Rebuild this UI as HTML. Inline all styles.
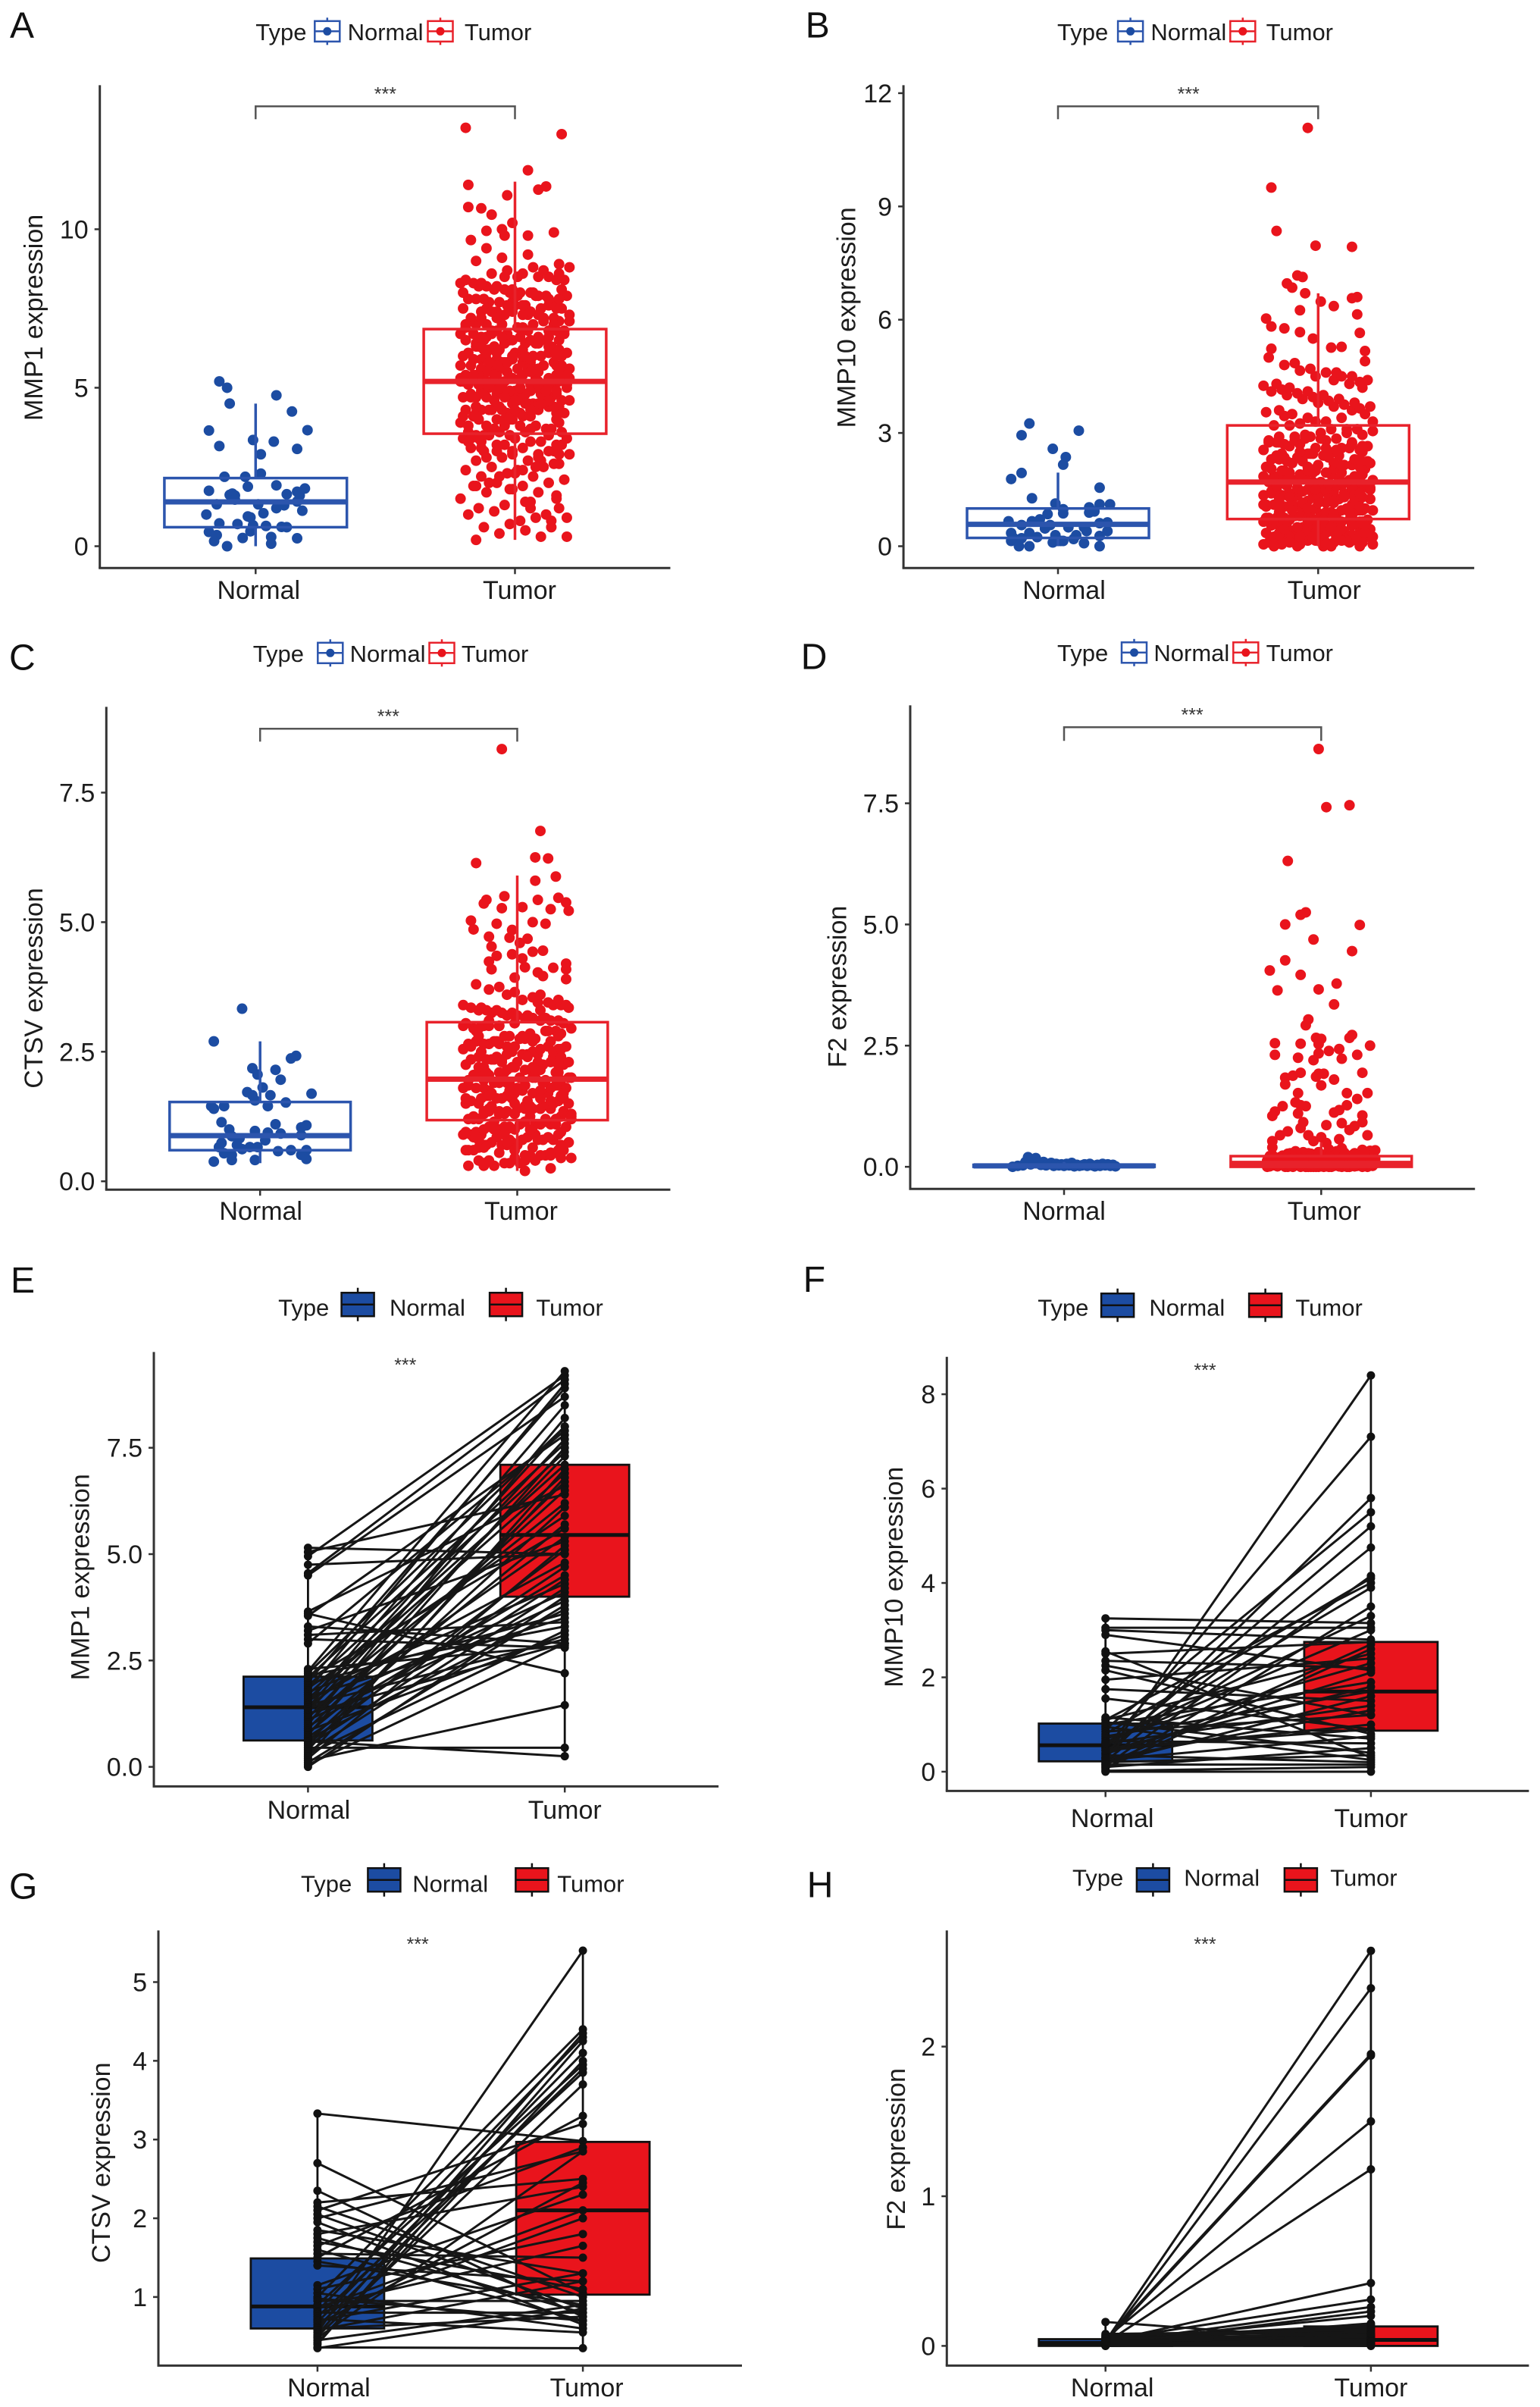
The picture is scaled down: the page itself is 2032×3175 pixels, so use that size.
<!DOCTYPE html>
<html lang="en">
<head>
<meta charset="utf-8">
<title>Expression of MMP1, MMP10, CTSV and F2 in normal and tumor samples</title>
<style>
html,body{margin:0;padding:0;background:#fff;}
svg{display:block;font-family:"Liberation Sans",sans-serif;}
</style>
</head>
<body>
<svg id="figure" width="2032" height="3175" viewBox="0 0 2032 3175"></svg>
<script>
const categories = ["Normal", "Tumor"];

/* shared horizontal jitter, in hundredths of the category gap */
const sharedJitter = [5,-11,15,-1,-17,9,-7,18,3,-13,13,-4,-20,6,-10,16,0,-15,10,-6,20,4,-12,14,-2,-18,8,-8,17,2,-14,12,-4,-21,6,-11,16,-1,-16,9,-7,19,3,-13,13,-3,-19,7,-9,17,1,-15,11,-5,21];

/* Panel A : MMP1 */
const aTicks = [0,5,10];
const aTickLabels = ["0","5","10"];
const aNormalBox = [0,.6,1.4,2.15,4.5];
const aTumorBox = [.2,3.55,5.2,6.85,11.5];
const aNormalValues = [5.2,5,4.76,4.5,4.25,3.65,3.66,3.35,3.3,3.16,3.07,2.9,2.19,2.29,2.19,1.88,1.92,1.75,1.82,1.72,1.66,1.6,1.62,1.64,1.6,1.47,1.41,1.32,1.32,1.2,1.29,1.12,1.04,1,.94,.91,.72,.7,.66,.64,.61,.6,.47,.45,.35,.26,.29,.25,.16,.08,0];
const aNormalJitter = [-14,-11,8,-10,14,-18,20,-1,7,-14,16,2,-12,2,-4,-3,8,-18,19,16,-9,-8,-10,12,17,-8,16,1,-15,8,11,18,3,-19,-3,-2,-14,-7,-1,4,10,12,-2,-18,-15,-5,6,16,-16,6,-11];
const aTumorJitter = [-19,18,5,-18,12,9,-3,-18,-13,-9,-1,-11,-5,-4,5,15,-17];
const aTumorValues = [13.2,13,11.86,11.4,11.35,11.25,11.07,10.7,10.66,10.46,10.2,9.95,10,9.8,9.8,9.9,9.66,
.2,.3,.4,.3,.5,.6,.8,.7,1,.9,1.1,1.2,.8,1.2,1,1.3,1.5,1.4,1.7,1.5,1.8,1.9,1.7,2,2.1,1.9,2.2,2,2.3,2.4,2.2,2.5,2.6,2.4,2.7,2.5,2.8,2.9,2.7,2.8,3,2.9,3.1,2.9,3,3.2,3.1,3.3,3,3.2,3.4,3.3,3.5,3.2,3.4,3.5,3.3,3.6,3.4,3.6,3.5,3.7,3.5,3.6,3.8,
3.7,3.9,3.8,4,3.7,4,3.9,4.1,3.8,4.2,4,4.1,4.3,4,4.2,4.1,4.3,4.4,4.2,4.3,4.5,4.3,4.4,4.6,4.4,4.5,4.3,4.6,4.5,4.7,4.4,4.6,4.7,4.5,4.8,4.6,4.7,4.9,4.6,4.8,4.7,4.9,5,4.8,4.9,4.7,5,4.9,5.1,4.8,5,5.1,4.9,5.2,5,5.1,5.2,5,5.3,5.1,5.2,5.3,5.1,5.2,5.4,
5.3,5.4,5.2,5.5,5.3,5.4,5.6,5.3,5.5,5.4,5.6,5.7,5.5,5.6,5.4,5.7,5.8,5.6,5.7,5.5,5.8,5.9,5.7,5.6,5.9,6,5.8,5.9,6.1,5.8,6,5.9,6.2,6,6.1,6.3,6,6.2,6.1,6.4,6.2,6.3,6.5,6.1,6.4,6.3,6.5,6.6,6.3,6.5,6.4,6.7,6.5,6.6,6.8,6.5,6.7,6.6,6.8,6.7,6.9,6.6,6.8,6.7,6.9,
7,6.8,7.1,6.9,7,7.2,7,7.1,7.3,7,7.2,7.4,7.1,7.3,7.2,7.5,7.3,7.4,7.6,7.3,7.5,7.4,7.7,7.5,7.6,7.8,7.5,7.7,7.9,7.6,7.8,7.7,8,7.8,7.9,8.1,7.8,8,8.2,7.9,8.1,8.3,8,8.2,8.4,8.1,8.3,8.5,8.2,8.4,8.6,8.3,8.5,8.7,8.4,8.8,8.6,8.9,8.5,9,8.7,9.1,8.8,9.2,9.4,
2.6,3,3.4,2.8,3.2,3.6,2.4,3.1,3.5,3.9,4.1,3.7,4.3,4,4.6,4.2,4.8,4.4,5,4.5,5.2,4.7,4.9,5.1,5.3,4.6,5.5,5,5.4,4.8,5.6,5.2,5.8,5.1,5.7,5.3,5.9,5.5,6.1,5.4,6,5.6,6.3,5.8,6.5,6,6.7,6.2,6.9,6.4,7.1,6.6,7.3,6.8,7.5,7,7.7,7.2,7.9,7.4,8.1,7.6,8.3,7.8,8.5,8,1.2,2,1.6,2.3,1.9,2.7,2.2,.9,1.4,3,.6,1.8,3.3,2.5,3.7,2.9,4.2,3.4,4.7,3.8,5.2,4.3,5.6,4.9,6,5.4,6.4,5.7,6.8,6.2,7.2,6.6,7.6,7,8,7.4,8.6,7.9,
4.4,4.7,5,5.3,5.6,5.9,6.2,4.5,4.8,5.1,5.4,5.7,6,6.3,4.6,4.9,5.2,5.5,5.8,6.1,4.3,4.1,4.5,5,5.5,6,6.5,6.8,4,3.8,5.2,5.4,5.6,5.3,5.1,4.9,4.7,5.7,5.9,6.1];

/* Panel B : MMP10 */
const bTicks = [0,3,6,9,12];
const bTickLabels = ["0","3","6","9","12"];
const bNormalBox = [0,.22,.58,1,1.95];
const bTumorBox = [0,.72,1.7,3.2,6.7];
const bNormalValues = [3.25,2.94,3.06,2.58,2.36,2.16,1.94,1.78,1.55,1.27,1.13,1.11,1.11,1.03,.98,.87,.85,.89,.92,.66,.71,.66,.56,.56,.63,.61,.5,.5,.47,.35,.35,.4,.4,.29,.29,.21,.21,.24,.27,.14,.14,.1,.08,.14,0,0,0,.19];
const bNormalJitter = [-11,-14,8,-2,3,2,-14,-18,16,-10,-1,20,16,12,2,2,-4,12,14,-19,-7,-10,-14,-3,19,16,10,4,-5,-18,-11,19,11,-1,7,-17,-14,-8,16,1,2,-2,10,-18,-15,-11,16,6];
const bTumorJitter = [-4,-18,-16,-1,13,-8,-6,-12,-10,-5,15,13,1,6,-7,-20,15,-18,-13,16,-7,-2,-18,5,9,18,18];
const bTumorValues = [11.08,9.5,8.35,7.96,7.93,7.17,7.13,6.96,6.85,6.7,6.6,6.57,6.48,6.36,6.25,6.03,6.14,5.82,5.77,5.65,5.67,5.5,5.23,5.26,5.28,5.17,4.9,
0,.1,0,.05,.1,.15,.05,.1,.2,0,.15,.1,.2,.05,.25,.1,.2,.15,.3,.1,.25,.2,.3,.15,.35,.2,.3,.25,.4,.2,.3,.35,.25,.4,.3,.45,.35,.4,.3,.5,.35,.45,.4,.5,.45,.55,.4,.5,.45,.55,.5,.6,.45,.55,.6,.5,.65,.55,.6,.7,.55,.65,.6,.7,.65,
.7,.75,.65,.8,.7,.85,.75,.8,.9,.75,.85,.8,.95,.85,.9,1,.85,.95,.9,1.05,.95,1,1.1,.95,1.05,1,1.15,1.05,1.1,1.2,1.05,1.15,1.1,1.25,1.15,1.2,1.3,1.15,1.25,1.2,1.35,1.25,1.3,1.4,1.25,1.35,1.3,1.45,1.35,1.4,1.5,1.35,1.45,1.4,1.55,1.45,1.5,1.6,1.45,1.55,1.5,1.65,1.55,1.6,1.7,
1.6,1.75,1.65,1.7,1.85,1.7,1.8,1.75,1.9,1.8,1.85,2,1.85,1.95,1.9,2.05,1.95,2,2.15,2,2.1,2.05,2.2,2.1,2.15,2.3,2.15,2.25,2.2,2.35,2.25,2.3,2.45,2.3,2.4,2.35,2.5,2.4,2.45,2.6,2.45,2.55,2.5,2.65,2.55,2.6,2.75,2.6,2.7,2.65,2.8,2.7,2.75,2.9,2.75,2.85,2.8,2.95,2.85,2.9,3,2.95,3.05,3.1,3.2,
3.1,3.3,3.2,3.4,3.25,3.5,3.3,3.45,3.6,3.4,3.55,3.7,3.5,3.65,3.8,3.6,3.75,3.9,3.7,3.85,4,3.8,3.95,4.1,3.9,4.05,4.2,4,4.15,4.3,4.1,4.25,4.4,4.2,4.35,4.5,4.3,4.5,4.65,4.4,4.6,4.8,4.5,4.7,5,4.6,4.85,
.1,.2,.3,.15,.4,.05,.5,.25,.6,.35,.7,.45,.8,.55,.9,.65,1,.75,1.1,.85,1.2,.95,1.3,1.05,1.4,1.15,1.5,1.25,1.6,1.35,1.7,1.45,1.8,1.55,1.9,1.65,2,1.75,2.1,1.85,2.2,1.95,2.3,2.05,2.4,2.15,2.5,2.25,2.6,2.35,2.7,2.45,2.8,2.55,2.9,2.65,3,2.75,3.1,2.85,3.3,0,.1,.2,.3,0,.15,.25,.35,.05,.45,.55,.65,.75,.85,.95,1.05,1.15,1.25,1.35,1.45,1.55,1.65,1.75,1.85,1.95,2.05,.4,.5,.6,.7,.8,.9,1,1.1,1.2,1.3,1.4,1.5,1.6,1.7];

/* Panel C : CTSV */
const cTicks = [0,2.5,5,7.5];
const cTickLabels = ["0.0","2.5","5.0","7.5"];
const cNormalBox = [.35,.6,.88,1.53,2.7];
const cTumorBox = [.2,1.18,1.97,3.07,5.9];
const cNormalValues = [3.33,2.7,2.42,2.37,2.18,2.15,2.06,1.96,1.81,1.72,1.66,1.69,1.66,1.56,1.52,1.45,1.4,1.45,1.45,1.14,1.1,1.08,1.04,1,.97,.94,.92,.89,.87,.83,.79,.74,.7,.66,.66,.66,.62,.58,.6,.6,.54,.51,.51,.43,.38,.41,.41];
const cNormalJitter = [-7,-18,14,12,-3,6,-1,8,1,-5,-3,20,4,-2,10,-19,-18,-14,3,-15,6,18,16,-12,-2,3,8,16,-11,-8,2,-15,-9,-4,-1,-16,-7,7,12,18,-14,-11,16,18,-18,-11,-2];
const cTumorJitter = [-6,9,-16,7,12,15,7,-5,-12,-13,8,16,19,20,2,13,-6,-18,-17,-8,6,11,-2,-11,-3,4,-10,1,6,10,-8,-2,2,-11,19,-10,3,14,19,8,10,-1];
const cTumorValues = [8.34,6.76,6.14,6.25,6.23,5.88,5.8,5.5,5.43,5.36,5.43,5.47,5.38,5.22,5.29,5.25,5.27,5.03,4.86,4.97,5,4.97,4.85,4.72,4.7,4.68,4.53,4.6,4.43,4.45,4.35,4.38,4.3,4.24,4.2,4.09,4.13,4.12,4.09,4.03,3.96,3.93,
.2,.3,.25,.35,.3,.4,.3,.45,.35,.4,.5,.35,.45,.5,.4,.55,.45,.6,.5,.55,.6,.5,.65,.55,.7,.6,.65,.75,.6,.7,.65,.8,.7,.75,.85,.7,.8,.75,.9,.8,.85,.95,.8,.9,.85,1,.9,.95,1.05,.9,1,.95,1.1,1,1.05,1.15,1,1.1,1.05,1.2,
1.1,1.15,1.25,1.1,1.2,1.15,1.3,1.2,1.25,1.35,1.2,1.3,1.25,1.4,1.3,1.35,1.45,1.3,1.4,1.35,1.5,1.4,1.45,1.55,1.4,1.5,1.45,1.6,1.5,1.55,1.65,1.5,1.6,1.55,1.7,1.6,1.65,1.75,1.6,1.7,1.65,1.8,1.7,1.75,1.85,1.7,1.8,1.75,1.9,1.8,1.85,1.95,1.8,1.9,1.85,2,1.9,1.95,
2,2.05,1.95,2.1,2,2.15,2.05,2.1,2.2,2.05,2.15,2.1,2.25,2.15,2.2,2.3,2.15,2.25,2.2,2.35,2.25,2.3,2.4,2.25,2.35,2.3,2.45,2.35,2.4,2.5,2.35,2.45,2.4,2.55,2.45,2.5,2.6,2.45,2.55,2.5,2.65,2.55,2.6,2.7,2.55,2.65,2.6,2.75,2.65,2.7,2.8,2.65,2.75,2.7,2.85,2.75,2.8,2.9,
2.8,2.95,2.85,3,2.9,3.05,2.95,3.1,3,3.05,3.15,3,3.1,3.2,3.05,3.15,3.25,3.1,3.2,3.3,3.15,3.25,3.35,3.2,3.3,3.4,3.25,3.35,3.45,3.3,3.4,3.5,3.35,3.45,3.6,3.4,3.55,3.7,3.5,3.65,3.8,3.6,3.75,3.9,
.4,.7,.5,.8,.6,.9,1,.7,1.1,.8,1.2,.9,1.3,1,1.4,1.1,1.5,1.2,1.6,1.3,1.7,1.4,1.8,1.5,1.9,1.6,2,1.7,2.1,1.8,2.2,1.9,2.3,2,2.4,2.1,2.5,2.2,2.6,2.3,2.7,2.4,2.8,2.5,2.9,2.6,3,2.7,3.1,2.8,3.2,2.9,3.3,3,3.4,1.15,1.35,1.55,1.75,1.95,2.15,2.35,2.55,2.75,2.95,3.15,1.05,1.25,1.45,1.65,1.85,.6,.85,1.1,1.35,1.6,1.85,.35,.55,.75,.95];

/* Panel D : F2 */
const dTicks = [0,2.5,5,7.5];
const dTickLabels = ["0.0","2.5","5.0","7.5"];
const dNormalBox = [0,0,.02,.04,.1];
const dTumorBox = [0,0,.07,.22,.5];
const dNormalValues = [0,.02,.03,.1,.2,.05,.15,.18,.1,.04,.1,.03,.06,.08,.02,.06,.03,.05,.02,.06,.03,.08,.01,.04,.02,.03,.05,.02,.06,.03,.01,.04,.02,.06,.03,.05,.02,.04,.01];
const dNormalJitter = [-20,-18,-16,-15,-14,-13,-12,-11,-10,-9,-8,-7,-6,-5,-4,-3,-2,-1,0,1,2,3,4,5,6,7,8,9,10,11,12,13,14,15,16,17,18,19,20];
const dTumorJitter = [-1,2,11,-13,-6,-8,-14,15,-3,12,-14,-20,-8,6,-17,-1,5,-5,-6,-18,-8,-2,0,12,11,19,-1,7,3,-18,-1,14,-9,-3,8,-8,-11,-14,-1,1,16,-2,5,-14,0,-9,10,18,-6,-10,-15,-18,-19,-8,-9,14,10,7,5,16,16,-7,8,2,13,-8,11,-16,18,-5,0,-19,7,-3,2,-13];
const dTumorValues = [8.62,7.42,7.46,6.31,5.25,5.2,5,4.99,4.69,4.45,4.26,4.05,3.96,3.78,3.64,3.66,3.35,3.04,2.92,2.55,2.54,2.66,2.64,2.72,2.66,2.5,2.53,2.43,2.39,2.31,2.34,2.31,2.25,2.2,2.23,1.94,1.88,1.84,1.92,1.92,1.94,1.86,1.8,1.7,1.68,1.52,1.52,1.52,1.25,1.33,1.25,1.14,1.05,1.27,1.1,1.4,1.27,1.17,1.12,1.06,.92,.92,.9,.86,.84,.8,.76,.65,.65,.65,.61,.53,.57,.53,.49,.73,
0,.02,.05,0,.03,.08,.01,.04,.1,0,.06,.02,.12,.03,.07,0,.15,.05,.02,.09,.18,.01,.04,.11,0,.06,.2,.03,.08,.02,.14,.05,0,.1,.25,.03,.07,.01,.16,.04,.3,.02,.09,0,.12,.06,.22,.03,.08,.35,.01,.05,.13,0,.18,.04,.28,.02,.1,.07,.38,0,.03,.15,.06,.24,.01,.09,.32,.04,.12,0,.2,.05,.02,.17,.08,.27,.03,.11,.4,.01,.06,.14,0,.23,.05,.1,.34,.02,.08,.19,.03,.13,.29,.04,.07,.36,.01,.16,
0,.01,.03,.05,.02,.07,.04,0,.06,.02,.08,.03,.1,.01,.05,0,.12,.04,.02,.09,.06,.14,.01,.03,0,.07,.11,.05,.02,.16,.04,0,.08,.13,.03,.06,.01,.18,.09,.02,.05,0,.15,.07,.03,.2,.04,.1,.01,.06,.22,0,.12,.02,.08,.17,.05,.03,.24,.01,.09,.14,.04,0,.26,.07,.02,.11,.19,.06,.3,.03,.13,.01,.08,.21,.05,0,.16,.1,.02,.28,.04,.12,.07,.33,.03,.18,.01,.09,
.15,.2,.25,.1,.18,.22,.12,.28,.16,.24,.08,.19,.3,.14,.21,.26,.11,.17,.23,.13,.27,.09,.2,.32,.15,.25,.1,.18,.22,.12,.29,.16,.24,.07,.19,.31,.14,.21,.26,.11,.17,.23,.13,.27,.09,.2,.3,.15,.25,.1,.18,.22,.12,.28,.16,.24,.08,.19,.3,.14];

/* Panel E : MMP1 paired */
const eTicks = [0,2.5,5,7.5];
const eTickLabels = ["0.0","2.5","5.0","7.5"];
const eNormalBox = [0,.62,1.4,2.12,5.15];
const eTumorBox = [.25,4,5.45,7.1,9.3];
const eNormalValues = [5.15,5.05,4.95,4.75,4.55,4.5,3.65,3.6,3.55,3.3,3.2,3.1,3,2.9,2.3,2.25,2.2,2.15,2.1,2.05,2,1.95,1.9,1.85,1.8,1.75,1.7,1.65,1.6,1.55,1.5,1.45,1.4,1.4,1.35,1.3,1.25,1.2,1.15,1.1,1.05,1,.95,.9,.85,.8,.75,.7,.65,.6,.6,.55,.5,.45,.4,.35,.3,.25,.2,.15,.1,.05,0];
const eTumorValues = [5,6.4,9.2,5,9.1,8.7,6.6,2.2,7.8,2.9,5.3,3.4,2.8,7.9,2.85,9.3,8,3.3,7.6,5.6,8.9,3.6,7.4,5.9,9,4.3,7.1,3.5,6.9,4.8,8.5,3,6.2,8,4.1,7.7,2.9,5.4,7.3,3.9,6.5,8.2,4.5,6.7,3.1,5.7,7.5,4.7,3.7,.25,6.1,5.1,4.4,.45,6.8,4.2,3.2,7,5.2,1.45,3.8,2.9,4];

/* Panel F : MMP10 paired */
const fTicks = [0,2,4,6,8];
const fTickLabels = ["0","2","4","6","8"];
const fNormalBox = [0,.22,.56,1.02,3.25];
const fTumorBox = [0,.87,1.7,2.75,8.4];
const fNormalValues = [3.25,3.05,3,2.9,2.55,2.5,2.35,2.25,2.15,1.95,1.75,1.55,1.15,1.1,1.1,1.05,1,.95,.9,.85,.8,.75,.7,.65,.62,.6,.55,.5,.5,.45,.4,.38,.35,.3,.28,.25,.22,.2,.18,.15,.12,.1,.08,.05,.02,0,.3,.45,.6,.15];
const fTumorValues = [3.15,3.05,2.8,2.15,.3,2.75,2.2,1.2,.8,2.4,1.5,.9,.7,2.5,4,.4,1.9,.25,5.5,1.2,4.1,1.7,2.3,.6,3.3,1.4,3.9,7.1,.9,1.8,5.2,2.1,.2,8.4,1.3,.75,4.75,.35,1.6,.15,4.15,.5,2.6,3.5,.1,0,5.8,1,3,2.7];

/* Panel G : CTSV paired */
const gTicks = [1,2,3,4,5];
const gTickLabels = ["1","2","3","4","5"];
const gNormalBox = [.35,.6,.88,1.49,3.33];
const gTumorBox = [.35,1.03,2.1,2.97,5.4];
const gNormalValues = [3.33,2.7,2.35,2.2,2.15,2.1,2.05,2,1.95,1.85,1.8,1.75,1.7,1.65,1.6,1.55,1.5,1.45,1.4,1.15,1.1,1.05,1,.98,.95,.9,.88,.85,.82,.8,.78,.75,.72,.7,.68,.65,.62,.6,.58,.55,.52,.5,.48,.45,.42,.4,.36,.35];
const gTumorValues = [2.98,1.05,.75,2.5,1,3.2,.85,2.85,.65,1.3,2.4,.8,1.1,2.9,.7,1.5,3.3,.9,1.2,2.3,1.8,.6,4.4,.7,.95,3.95,1.65,2.1,4.3,.8,2,3.85,.55,1.3,4.1,2.45,3.9,.75,1.2,5.4,4.35,3.7,2.85,.9,4,4.25,.35,.85];

/* Panel H : F2 paired */
const hTicks = [0,1,2];
const hTickLabels = ["0","1","2"];
const hNormalBox = [0,0,.02,.045,.16];
const hTumorBox = [0,0,.04,.13,2.64];
const hNormalValues = [.16,.03,.02,.04,.03,.05,.02,.03,.04,.02,.01,.03,.02,.05,.06,.08,.07,.04,.02,.01,.03,.05,.02,.06,.04,0,.01,.03,.02,.01,0,.04,.07,.02,.03,0,.01,.05,.02,.03];
const hTumorValues = [.03,2.64,2.39,1.95,1.94,1.5,1.18,.42,.31,.26,.23,.2,.15,.14,.12,.1,.09,.08,.07,.06,.05,.05,.04,.04,.03,.03,.02,.02,.01,.01,0,.13,.11,.07,.06,.02,.01,.08,.03,0];

const BLUE = "#1c4ca2";
const RED = "#e9141c";
const BLUE_LINE = "#2c55ad";
const RED_LINE = "#e8222b";
const INK = "#1c1c1c";

const jitterPanels = [
 {id:"a",letter:"A",lx:13,ly:49.7,title:"MMP1 expression",tx:44,ty:418.9,left:131.7,right:884.5,top:112.4,bottom:749.3,ref:[0,720.5,10,302.4],xN:337.3,xT:679.5,hw:120.4,lbN:4,lbT:6,lbY:790,ticks:aTicks,tl:aTickLabels,bN:aNormalBox,bT:aTumorBox,vN:aNormalValues,jN:aNormalJitter,vT:aTumorValues,jT:aTumorJitter,br:140.3,brD:157.2,sx:508.4,sy:132.4,lg:[337.3,431.8,458.6,581,612.9,41.3,41.8]},
 {id:"b",letter:"B",lx:1062.8,ly:49.7,title:"MMP10 expression",tx:1116.5,ty:418.9,left:1192.1,right:1945.2,top:112.4,bottom:749.3,ref:[0,720.5,12,122.9],xN:1396,xT:1739.3,hw:120,lbN:8,lbT:8,lbY:790,ticks:bTicks,tl:bTickLabels,bN:bNormalBox,bT:bTumorBox,vN:bNormalValues,jN:bNormalJitter,vT:bTumorValues,jT:bTumorJitter,br:140.3,brD:157.2,sx:1568.2,sy:132.4,lg:[1395,1491.6,1518.4,1639.8,1670.6,41.3,41.8]},
 {id:"c",letter:"C",lx:12,ly:883.7,title:"CTSV expression",tx:44,ty:1303.5,left:140.3,right:884.5,top:932.4,bottom:1569.2,ref:[0,1558.2,7.5,1045.5],xN:343.2,xT:682.5,hw:119.4,lbN:1,lbT:5,lbY:1609,ticks:cTicks,tl:cTickLabels,bN:cNormalBox,bT:cTumorBox,vN:cNormalValues,jN:cNormalJitter,vT:cTumorValues,jT:cTumorJitter,br:961.3,brD:978.2,sx:512.4,sy:953.4,lg:[333.8,435.8,461.6,583,608.9,861.3,861.8]},
 {id:"d",letter:"D",lx:1056.8,ly:882.7,title:"F2 expression",tx:1104.5,ty:1301.5,left:1201,right:1946.2,top:930.4,bottom:1568.2,ref:[0,1539.1,7.5,1059.6],xN:1404,xT:1743.3,hw:119.4,lbN:0,lbT:4,lbY:1609,ticks:dTicks,tl:dTickLabels,bN:dNormalBox,bT:dTumorBox,vN:dNormalValues,jN:dNormalJitter,vT:dTumorValues,jT:dTumorJitter,br:959.3,brD:977.2,sx:1573.1,sy:951.3,lg:[1395,1496.5,1522.4,1643.8,1670.6,860.8,860.8]}
];

const pairedPanels = [
 {id:"e",letter:"E",lx:14,ly:1704.8,title:"MMP1 expression",tx:105.5,ty:2080.3,left:203,right:948.1,top:1783.4,bottom:2356.4,ref:[0,2330.6,7.5,1909.7],xN:406.4,xT:745.2,hw:85,lbN:1,lbT:0,lbY:2399.2,ticks:eTicks,tl:eTickLabels,bN:eNormalBox,bT:eTumorBox,vN:eNormalValues,vT:eTumorValues,sx:534.8,sy:1809.2,lg:[367.1,472.1,514,667.6,707.4,1720.7,1724.7]},
 {id:"f",letter:"F",lx:1059.8,ly:1703.8,title:"MMP10 expression",tx:1179.2,ty:2080.3,left:1249.3,right:2017.4,top:1789.8,bottom:2362.4,ref:[0,2337,8,1839.1],xN:1458.7,xT:1808.9,hw:88,lbN:9,lbT:0,lbY:2410.2,ticks:fTicks,tl:fTickLabels,bN:fNormalBox,bT:fTumorBox,vN:fNormalValues,vT:fTumorValues,sx:1590,sy:1816.2,lg:[1369.2,1474.6,1516.4,1669.6,1709.4,1721.7,1724.7]},
 {id:"g",letter:"G",lx:12,ly:2504.6,title:"CTSV expression",tx:132.8,ty:2852.8,left:209,right:979,top:2546.4,bottom:3120.4,ref:[1,3029.9,5,2614.5],xN:418.9,xT:769.1,hw:88,lbN:15,lbT:5,lbY:3161.2,ticks:gTicks,tl:gTickLabels,bN:gNormalBox,bT:gTumorBox,vN:gNormalValues,vT:gTumorValues,sx:551.2,sy:2573.2,lg:[397,506.9,544.2,701.9,735.2,2479.7,2484.7]},
 {id:"h",letter:"H",lx:1064.8,ly:2502.6,title:"F2 expression",tx:1182.1,ty:2834.9,left:1249.3,right:2017.4,top:2546.4,bottom:3120.4,ref:[0,3094.4,2,2699.6],xN:1458.7,xT:1808.9,hw:88,lbN:9,lbT:0,lbY:3161.2,ticks:hTicks,tl:hTickLabels,bN:hNormalBox,bT:hTumorBox,vN:hNormalValues,vT:hTumorValues,sx:1590,sy:2573.2,lg:[1415,1521.4,1562.2,1716.4,1755.2,2479.7,2476.7]}
];

const svg = document.getElementById("figure");
const NS = svg.namespaceURI;

function mk(parent, tag, attrs, text) {
  const el = document.createElementNS(NS, tag);
  for (const k in attrs) el.setAttribute(k, attrs[k]);
  if (text !== undefined) el.textContent = text;
  parent.appendChild(el);
  return el;
}

function yScale(p) {
  const k = (p.ref[3] - p.ref[1]) / (p.ref[2] - p.ref[0]);
  return function (v) { return p.ref[1] + (v - p.ref[0]) * k; };
}

function drawFrame(p, g, y, filled) {
  const letter = mk(g, "text", {x:p.lx, y:p.ly, "font-size":48, fill:"#111"}, p.letter);
  
  

  const title = mk(g, "text", {x:0, y:0, "font-size":34, fill:INK, "text-anchor":"middle", transform:"translate(" + (p.tx + 12) + " " + p.ty + ") rotate(-90)"}, p.title);
  
  

  const yAxis = mk(g, "line", {x1:p.left, x2:p.left, y1:p.top, y2:p.bottom, stroke:"#333", "stroke-width":3});
  
  

  const xAxis = mk(g, "line", {x1:p.left - 1.5, x2:p.right, y1:p.bottom, y2:p.bottom, stroke:"#333", "stroke-width":3});
  
  

  p.ticks.forEach(function (t, i) {
    const tick = mk(g, "line", {x1:p.left - 7, x2:p.left, y1:y(t), y2:y(t), stroke:"#333", "stroke-width":2.5});
    
    
    const label = mk(g, "text", {x:p.left - 15, y:y(t) + 12, "font-size":34, fill:INK, "text-anchor":"end"}, p.tl[i]);
    
    
  });

  [p.xN, p.xT].forEach(function (x, i) {
    const tick = mk(g, "line", {x1:x, x2:x, y1:p.bottom, y2:p.bottom + 8, stroke:"#333", "stroke-width":2.5});
    
    
    const label = mk(g, "text", {x:x + (i ? p.lbT : p.lbN), y:p.lbY, "font-size":34, fill:INK, "text-anchor":"middle"}, categories[i]);
    
    
  });

  const stars = mk(g, "text", {x:p.sx, y:p.sy, "font-size":25, fill:"#333", "text-anchor":"middle"}, "***");
  
  

  const lg = p.lg;
  const legend = mk(g, "g", {});
  
  
  const typeText = mk(legend, "text", {x:lg[0], y:lg[6] + 11, "font-size":31, fill:INK}, "Type");
  
  

  [[lg[1], lg[2], BLUE, BLUE_LINE, 0], [lg[3], lg[4], RED, RED_LINE, 1]].forEach(function (e) {
    const cx = e[0], kw = filled ? 43 : 33, kh = filled ? 31 : 27, wl = filled ? 22 : 18;
    const line = filled ? "#111" : e[3];
    const whisk = mk(legend, "line", {x1:cx, x2:cx, y1:lg[5] - wl, y2:lg[5] + wl, stroke:line, "stroke-width":2.5});
    
    
    const rect = mk(legend, "rect", {x:cx - kw / 2, y:lg[5] - kh / 2, width:kw, height:kh, fill:filled ? e[2] : "#fff", stroke:line, "stroke-width":2.5});
    
    
    const mid = mk(legend, "line", {x1:cx - kw / 2, x2:cx + kw / 2, y1:lg[5], y2:lg[5], stroke:line, "stroke-width":2.5});
    
    
    if (!filled) {
      const dot = mk(legend, "circle", {cx:cx, cy:lg[5], r:5.5, fill:e[2]});
      
      
    }
    const label = mk(legend, "text", {x:e[1], y:lg[6] + 11, "font-size":31, fill:INK}, categories[e[4]]);
    
    
  });
}

function drawBox(g, stats, cx, hw, y, fill, stroke, sw, msw) {
  const up = mk(g, "line", {x1:cx, x2:cx, y1:y(stats[3]), y2:y(stats[4]), stroke:stroke, "stroke-width":sw});
  
  
  const down = mk(g, "line", {x1:cx, x2:cx, y1:y(stats[1]), y2:y(stats[0]), stroke:stroke, "stroke-width":sw});
  
  
  const box = mk(g, "rect", {x:cx - hw, y:y(stats[3]), width:hw * 2, height:Math.max(0, y(stats[1]) - y(stats[3])), fill:fill, stroke:stroke, "stroke-width":sw});
  
  
  const med = mk(g, "line", {x1:cx - hw, x2:cx + hw, y1:y(stats[2]), y2:y(stats[2]), stroke:stroke, "stroke-width":msw});
  
  
}

function drawPoints(g, values, jitter, cx, gap, y, color) {
  values.forEach(function (v, i) {
    const j = i < jitter.length ? jitter[i] : sharedJitter[i % sharedJitter.length];
    const c = mk(g, "circle", {cx:cx + j / 100 * gap, cy:y(v), r:7, fill:color});
    
    
  });
}

jitterPanels.forEach(function (p) {
  const g = mk(svg, "g", {});
  
  
  const y = yScale(p);
  const gap = p.xT - p.xN;
  drawFrame(p, g, y, false);
  const bracket = mk(g, "path", {d:"M" + p.xN + " " + p.brD + "V" + p.br + "H" + p.xT + "V" + p.brD, fill:"none", stroke:"#555", "stroke-width":2.5});
  
  
  drawPoints(g, p.vN, p.jN, p.xN, gap, y, BLUE);
  drawPoints(g, p.vT, p.jT, p.xT, gap, y, RED);
  drawBox(g, p.bN, p.xN, p.hw, y, "none", BLUE_LINE, 3.5, 7);
  drawBox(g, p.bT, p.xT, p.hw, y, "none", RED_LINE, 3.5, 7);
});

pairedPanels.forEach(function (p) {
  const g = mk(svg, "g", {});
  
  
  const y = yScale(p);
  drawFrame(p, g, y, true);
  drawBox(g, p.bN, p.xN, p.hw, y, BLUE, "#111", 2.8, 5);
  drawBox(g, p.bT, p.xT, p.hw, y, RED, "#111", 2.8, 5);
  p.vN.forEach(function (v, i) {
    const l = mk(g, "line", {x1:p.xN, x2:p.xT, y1:y(v), y2:y(p.vT[i]), stroke:"#161616", "stroke-width":3});
    
    
  });
  p.vN.forEach(function (v, i) {
    const a = mk(g, "circle", {cx:p.xN, cy:y(v), r:5.5, fill:"#111"});
    
    
    const b = mk(g, "circle", {cx:p.xT, cy:y(p.vT[i]), r:5.5, fill:"#111"});
    
    
  });
});
</script>
</body>
</html>
